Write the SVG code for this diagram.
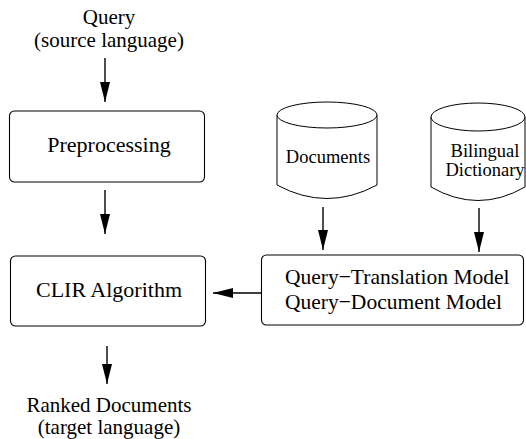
<svg xmlns="http://www.w3.org/2000/svg" width="526" height="439" viewBox="0 0 526 439">
<style>
.lbl{font-size:22px;fill:#000}
.lbl-2{font-size:21px;fill:#000}
.lbl-sm{font-size:18.5px;fill:#000}
.lbl-md{font-size:21.5px;fill:#000}
.mid{text-anchor:middle}
.box{fill:#fff;stroke:#000;stroke-width:1.1}
.cyl{fill:#fff;stroke:#000;stroke-width:1}
.conn line{stroke:#000;stroke-width:1.4}
</style>
<defs>
<marker id="ah" markerWidth="20" markerHeight="10" refX="20" refY="5" orient="auto" markerUnits="userSpaceOnUse">
<path d="M0,0 L20,5 L0,10 Z" fill="#000"/>
</marker>
</defs>
<rect width="526" height="439" fill="#fff"/>
<g font-family="Liberation Serif, Times New Roman, serif">
<g id="query">
<text class="lbl-2 mid" x="109" y="24">Query</text>
<text class="lbl-2 mid" x="109" y="47">(source language)</text>
</g>
<g id="preprocessing">
<rect class="box" x="9.5" y="111" width="195" height="71" rx="5"/>
<text class="lbl mid" x="109" y="152">Preprocessing</text>
</g>
<g id="clir">
<rect class="box" x="10.5" y="256" width="195" height="70" rx="5"/>
<text class="lbl mid" x="109" y="297">CLIR Algorithm</text>
</g>
<g id="ranked">
<text class="lbl-2 mid" x="109" y="412">Ranked Documents</text>
<text class="lbl-2 mid" x="109" y="434">(target language)</text>
</g>
<g id="documents">
<path class="cyl" d="M277,115 L277,185 Q327,212 377,185 L377,115"/>
<ellipse class="cyl" cx="327" cy="115" rx="50" ry="13"/>
<text class="lbl-sm mid" x="328" y="163">Documents</text>
</g>
<g id="dictionary">
<path class="cyl" d="M431,117 L431,187 Q478,214 525,187 L525,117"/>
<ellipse class="cyl" cx="478" cy="117" rx="47" ry="14"/>
<text class="lbl-sm mid" x="485" y="157">Bilingual</text>
<text class="lbl-sm mid" x="485" y="176">Dictionary</text>
</g>
<g id="models">
<rect class="box" x="261.5" y="255" width="262" height="70" rx="5"/>
<text class="lbl-md" x="285" y="284">Query−Translation Model</text>
<text class="lbl-md" x="285" y="309">Query−Document Model</text>
</g>
</g>
<g id="connectors" class="conn">
<line x1="105" y1="58" x2="105" y2="102" marker-end="url(#ah)"/>
<line x1="105" y1="190" x2="105" y2="234" marker-end="url(#ah)"/>
<line x1="107" y1="346" x2="107" y2="384" marker-end="url(#ah)"/>
<line x1="323" y1="207" x2="323" y2="250" marker-end="url(#ah)"/>
<line x1="479" y1="208" x2="479" y2="252" marker-end="url(#ah)"/>
<line x1="261" y1="293" x2="213" y2="293" marker-end="url(#ah)"/>
</g>
</svg>
